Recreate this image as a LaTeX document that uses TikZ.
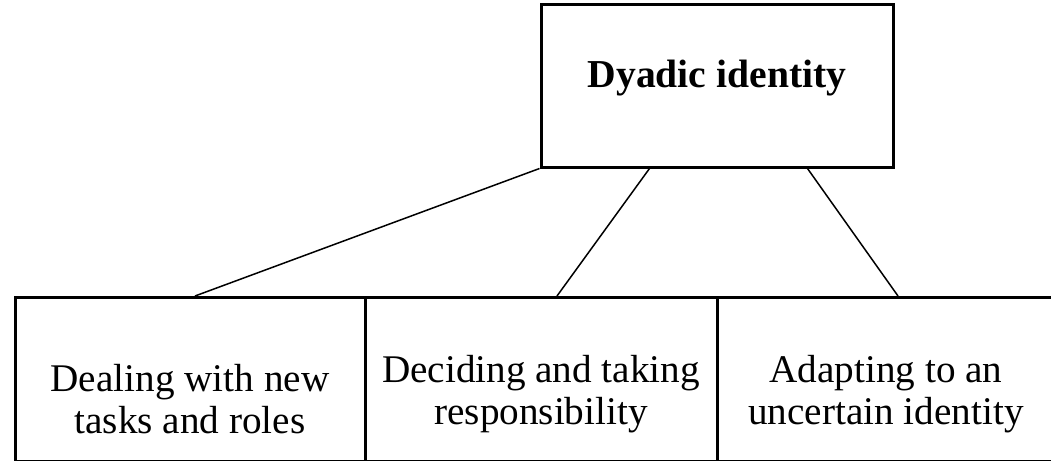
\documentclass[tikz,border=0pt]{standalone}
\usepackage{fontspec}
\setmainfont{Liberation Serif}
\usepackage{tikz}
\usetikzlibrary{positioning}

\begin{document}
\begin{tikzpicture}[
  x=0.5pt, y=-0.5pt,
  topbox/.style={draw, line width=1.5pt, minimum width=176pt, minimum height=81.5pt, inner sep=0pt},
  subbox/.style={draw, line width=1.5pt, minimum width=176pt, minimum height=82pt, inner sep=0pt},
  boxtext/.style={align=center, font=\fontsize{19.6}{21}\selectfont},
  link/.style={line width=0.75pt}
]
  \clip (0,0) rectangle (1051,461);
  \node[topbox] (dyad) at (717,85.5) {};
  \node[font=\fontsize{19.8}{21}\selectfont\bfseries] (dyadtxt) at (717,78) {Dyadic identity};
  \node[subbox, minimum width=175pt] (tasks) at (190,379.5) {};
  \node[subbox] (decide) at (541,379.5) {};
  \node[subbox, minimum width=175pt] (adapt) at (892,379.5) {};
  \node[boxtext] (taskstxt) at (190,399) {Dealing with new\\tasks and roles};
  \node[boxtext] (decidetxt) at (541,394) {Deciding and taking\\responsibility};
  \node[boxtext] (adapttxt) at (886,394) {Adapting to an\\uncertain identity};
  \draw[link] (dyad.south west) -- ([xshift=2.5pt]tasks.north);
  \draw[link] ([xshift=55pt]dyad.south west) -- ([xshift=8pt]decide.north);
  \draw[link] ([xshift=-43.5pt]dyad.south east) -- ([xshift=3pt]adapt.north);
\end{tikzpicture}
\end{document}
